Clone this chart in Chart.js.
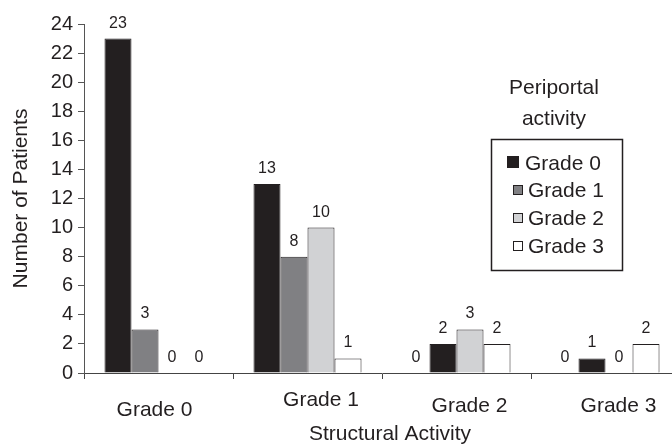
<!DOCTYPE html>
<html>
<head>
<meta charset="utf-8">
<script src="https://cdn.jsdelivr.net/npm/chart.js@4.4.1/dist/chart.umd.min.js"></script>
<style>
    html, body { margin: 0; padding: 0; background: #fff; overflow: hidden; }
    #wrap { width: 690px; height: 444px; }
</style>
</head>
<body>
<div id="wrap"><canvas id="myChart" width="690" height="444"></canvas></div>
<script>
// categories on the x axis (structural activity)
var categories = ["Grade 0", "Grade 1", "Grade 2", "Grade 3"];
// series = periportal activity grades
var seriesNames = ["Grade 0", "Grade 1", "Grade 2", "Grade 3"];
var periportal0 = [23, 13, 2, 1];
var periportal1 = [3, 8, 0, 0];
var periportal2 = [0, 10, 3, 0];
var periportal3 = [0, 1, 2, 2];
var yTicks = [0, 2, 4, 6, 8, 10, 12, 14, 16, 18, 20, 22, 24];

var series = [periportal0, periportal1, periportal2, periportal3];
var colors = ['#231f20', '#808083', '#d1d2d4', '#ffffff'];
var ink = '#231f20';
var fam = '"Liberation Sans", Arial, sans-serif';

// the original puts grade 1 in front of grade 0 in the last two groups
var slotOrder = [[0, 1, 2, 3], [0, 1, 2, 3], [1, 0, 2, 3], [1, 0, 2, 3]];

const datasets = [];
for (let s = 0; s < 4; s++) {
    datasets.push({
        label: 'slot ' + s,
        data: categories.map((c, i) => series[slotOrder[i][s]][i]),
        backgroundColor: categories.map((c, i) => colors[slotOrder[i][s]]),
        borderColor: ink,
        borderWidth: 1,
        barPercentage: 1.0,
        categoryPercentage: 0.725
    });
}

// value labels, x labels, x title and the boxed legend
const extras = {
    id: 'extras',
    afterDraw(chart) {
        const ctx = chart.ctx;
        const xs = chart.scales.x;
        ctx.save();
        ctx.fillStyle = ink;
        ctx.textAlign = 'center';
        ctx.textBaseline = 'alphabetic';

        ctx.font = '16px ' + fam;
        chart.data.datasets.forEach((ds, d) => {
            chart.getDatasetMeta(d).data.forEach((bar, i) => {
                ctx.fillText(String(ds.data[i]), bar.x, bar.y - 11);
            });
        });

        // category labels (staggered like the reference)
        const shift = [[-4, 416], [13.5, 406], [13, 412], [13, 412]];
        ctx.font = '21px ' + fam;
        categories.forEach((c, i) => {
            ctx.fillText(c, xs.getPixelForValue(i) + shift[i][0], shift[i][1]);
        });
        ctx.fillText('Structural Activity', (xs.left + xs.right) / 2 + 8, 440);

        // legend
        ctx.fillText('Periportal', 554, 94);
        ctx.fillText('activity', 554, 125);
        ctx.strokeStyle = ink;
        ctx.lineWidth = 1.5;
        ctx.strokeRect(491.5, 139.5, 131, 131);
        ctx.textAlign = 'left';
        const base = [170, 197, 225, 253];
        seriesNames.forEach((n, k) => {
            const sz = k === 0 ? 12 : 10;
            const sx = k === 0 ? 507 : 513;
            ctx.fillStyle = colors[k];
            ctx.fillRect(sx, base[k] - 2 - sz, sz, sz);
            ctx.lineWidth = 1;
            ctx.strokeRect(sx + 0.5, base[k] - 1.5 - sz, sz - 1, sz - 1);
            ctx.fillStyle = ink;
            ctx.fillText(n, k === 0 ? 525 : 528, base[k]);
        });
        ctx.restore();
    }
};

new Chart(document.getElementById('myChart'), {
    type: 'bar',
    data: { labels: categories, datasets: datasets },
    options: {
        responsive: false,
        animation: false,
        devicePixelRatio: 1,
        layout: { padding: { top: 24, right: 10, bottom: 0, left: 0 } },
        plugins: { legend: { display: false }, tooltip: { enabled: false } },
        scales: {
            x: {
                afterFit: s => { s.height = 71; },
                grid: { display: true, drawOnChartArea: false, offset: true, tickLength: 6, color: '#444' },
                border: { color: '#444', width: 1 },
                ticks: { display: false }
            },
            y: {
                min: 0, max: 24,
                afterFit: s => { s.width = 84; },
                afterBuildTicks: s => { s.ticks = yTicks.map(v => ({ value: v })); },
                grid: { drawOnChartArea: false, tickLength: 6, color: '#555' },
                border: { color: '#555', width: 1 },
                ticks: { color: ink, padding: 5, font: { family: fam, size: 20 } },
                title: {
                    display: true, text: 'Number of Patients', color: ink,
                    font: { family: fam, size: 21 }, padding: { top: 9, bottom: 0 }
                }
            }
        }
    },
    plugins: [extras]
});
</script>
</body>
</html>
